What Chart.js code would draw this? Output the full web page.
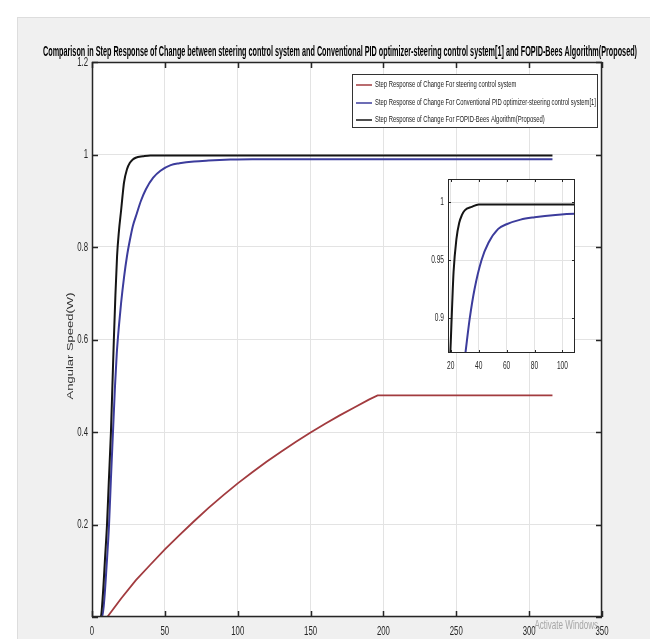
<!DOCTYPE html>
<html>
<head>
<meta charset="utf-8">
<script src="https://cdn.jsdelivr.net/npm/chart.js@4.4.1/dist/chart.umd.min.js"></script>
<style>
html, body { margin: 0; padding: 0; background: #fff; }
#wrap { position: relative; width: 650px; height: 639px; overflow: hidden; }
#main { position: absolute; left: 0; top: 0; }
#inset { position: absolute; left: 420px; top: 170px; }
</style>
</head>
<body>
<div id="wrap">
  <canvas id="main" width="650" height="639"></canvas>
  <canvas id="inset" width="170" height="205"></canvas>
</div>
<script>
// textos
var titleText = 'Comparison in Step Response of Change between steering control system and Conventional PID optimizer-steering control system[1] and FOPID-Bees Algorithm(Proposed)';
var yLabel = 'Angular Speed(W)';
var seriesNames = [
    'Step Response of Change For steering control system',
    'Step Response of Change For Conventional PID optimizer-steering control system[1]',
    'Step Response of Change For FOPID-Bees Algorithm(Proposed)'
];
var watermark = 'Activate Windows';

// datos
var tRed = [10.5, 20, 30, 40, 50, 60, 70, 80, 90, 100, 110, 120, 130, 140, 150, 160, 170, 180, 190, 196, 316];
var vRed = [0, 0.040, 0.079, 0.113, 0.146, 0.177, 0.207, 0.236, 0.263, 0.289, 0.313, 0.336, 0.358, 0.379, 0.399, 0.418, 0.436, 0.453, 0.470, 0.479, 0.479];

var tBlue = [0, 7, 8.5, 10, 11.7, 13, 14.4, 15.8, 17, 18.5, 20, 22, 24, 26, 28, 30.7, 33.6, 37, 42, 47, 54, 60, 70, 80, 95, 110, 316];
var vBlue = [0, 0, 0.04, 0.11, 0.2, 0.3, 0.4, 0.5, 0.57, 0.63, 0.68, 0.735, 0.78, 0.815, 0.845, 0.872, 0.9, 0.925, 0.95, 0.965, 0.977, 0.981, 0.985, 0.987, 0.989, 0.99, 0.99];

var tBlack = [0, 6, 7.5, 9, 10.3, 11.5, 13, 14, 15, 16, 17.2, 18.5, 20, 21, 22, 24, 26, 28, 30, 35, 40, 316];
var vBlack = [0, 0, 0.05, 0.13, 0.2, 0.29, 0.4, 0.5, 0.6, 0.69, 0.78, 0.835, 0.88, 0.912, 0.94, 0.968, 0.982, 0.989, 0.993, 0.996, 0.998, 0.998];

var xTicks = [0, 50, 100, 150, 200, 250, 300, 350];
var yTicks = [0, 0.2, 0.4, 0.6, 0.8, 1, 1.2];
var insetXTicks = [20, 40, 60, 80, 100];
var insetYTicks = [0.9, 0.95, 1];

var colors = ['#a23b3f', '#3c3c9c', '#151515'];

function pts(t, v) {
    return t.map(function (x, i) { return { x: x, y: v[i] }; });
}

function makeSets() {
    return [
        { label: seriesNames[0], data: pts(tRed, vRed), borderColor: colors[0], borderWidth: 1.8, order: 2, cubicInterpolationMode: 'default', tension: 0 },
        { label: seriesNames[1], data: pts(tBlue, vBlue), borderColor: colors[1], borderWidth: 2, order: 1 },
        { label: seriesNames[2], data: pts(tBlack, vBlack), borderColor: colors[2], borderWidth: 2, order: 0 }
    ];
}

function fmt(v) { return String(parseFloat(v.toFixed(2))); }

function squeeze(ctx, text, x, y, sx) {
    ctx.save();
    ctx.translate(x, y);
    ctx.scale(sx, 1);
    ctx.fillText(text, 0, 0);
    ctx.restore();
}

// fondo gris de la figura y area blanca
var paper = {
    id: 'paper',
    beforeDraw: function (chart, args, opts) {
        var ctx = chart.ctx, a = chart.chartArea;
        ctx.save();
        if (opts.figure) {
            ctx.fillStyle = '#ffffff';
            ctx.fillRect(0, 0, chart.width, chart.height);
            ctx.fillStyle = '#f0f0f0';
            ctx.fillRect(18, 18, chart.width - 18, chart.height - 18);
            ctx.strokeStyle = '#dddddd';
            ctx.strokeRect(17.5, 17.5, chart.width, chart.height);
        }
        ctx.fillStyle = '#ffffff';
        ctx.fillRect(a.left, a.top, a.right - a.left, a.bottom - a.top);
        ctx.restore();
    }
};

// caja, ticks hacia dentro y etiquetas
var frame = {
    id: 'frame',
    afterDatasetsDraw: function (chart, args, o) {
        var ctx = chart.ctx, a = chart.chartArea;
        var xs = chart.scales.x, ys = chart.scales.y;
        ctx.save();
        ctx.strokeStyle = '#262626';
        ctx.lineWidth = o.lw;
        ctx.strokeRect(a.left + 0.5, a.top + 0.5, a.right - a.left - 1, a.bottom - a.top - 1);
        ctx.beginPath();
        o.xt.forEach(function (v) {
            var px = Math.round(xs.getPixelForValue(v)) + 0.5;
            ctx.moveTo(px, a.bottom); ctx.lineTo(px, a.bottom - o.tl);
            ctx.moveTo(px, a.top); ctx.lineTo(px, a.top + o.tl);
        });
        o.yt.forEach(function (v) {
            var py = Math.round(ys.getPixelForValue(v)) + 0.5;
            ctx.moveTo(a.left, py); ctx.lineTo(a.left + o.tl, py);
            ctx.moveTo(a.right, py); ctx.lineTo(a.right - o.tl, py);
        });
        ctx.stroke();

        ctx.fillStyle = '#262626';
        ctx.font = o.fs + 'px "Liberation Sans", Arial, sans-serif';
        ctx.textAlign = 'center';
        ctx.textBaseline = 'top';
        o.xt.forEach(function (v) {
            squeeze(ctx, fmt(v), xs.getPixelForValue(v), a.bottom + o.xpad, 0.6);
        });
        ctx.textAlign = 'right';
        ctx.textBaseline = 'middle';
        o.yt.forEach(function (v) {
            if (v === 0) return;
            squeeze(ctx, fmt(v), a.left - o.ypad, ys.getPixelForValue(v), 0.6);
        });

        if (o.figure) {
            // titulo
            ctx.font = 'bold 14px "Liberation Sans", Arial, sans-serif';
            ctx.textAlign = 'center';
            ctx.textBaseline = 'alphabetic';
            ctx.fillStyle = '#000';
            var tw = ctx.measureText(titleText).width;
            squeeze(ctx, titleText, 340, 56, 594 / tw);

            // etiqueta eje y
            ctx.save();
            ctx.translate(70, 346);
            ctx.scale(0.75, 1);
            ctx.rotate(-Math.PI / 2);
            ctx.font = '13px "Liberation Sans", Arial, sans-serif';
            ctx.fillStyle = '#333';
            ctx.textAlign = 'center';
            ctx.textBaseline = 'middle';
            ctx.fillText(yLabel, 0, 0);
            ctx.restore();

            // leyenda
            ctx.fillStyle = '#fff';
            ctx.fillRect(352, 74, 245, 53);
            ctx.strokeStyle = '#333';
            ctx.lineWidth = 1;
            ctx.strokeRect(352.5, 74.5, 245, 53);
            ctx.font = '9px "Liberation Sans", Arial, sans-serif';
            var mw = 0;
            seriesNames.forEach(function (s) { mw = Math.max(mw, ctx.measureText(s).width); });
            var sx = 221 / mw;
            var rows = [85, 103, 120];
            seriesNames.forEach(function (s, i) {
                ctx.strokeStyle = colors[i];
                ctx.lineWidth = 1.5;
                ctx.beginPath();
                ctx.moveTo(356, rows[i]); ctx.lineTo(372, rows[i]);
                ctx.stroke();
                ctx.fillStyle = '#222';
                ctx.textAlign = 'left';
                ctx.textBaseline = 'middle';
                squeeze(ctx, s, 375, rows[i], sx);
            });

            // marca de agua
            ctx.font = '13px "Liberation Sans", Arial, sans-serif';
            ctx.fillStyle = 'rgba(140,140,140,0.75)';
            ctx.textAlign = 'right';
            ctx.textBaseline = 'alphabetic';
            squeeze(ctx, watermark, 598, 629, 0.62);
        }
        ctx.restore();
    }
};

function scaleOpts(min, max, ticks, fit, prop) {
    return {
        type: 'linear', min: min, max: max,
        afterBuildTicks: function (s) { s.ticks = ticks.map(function (v) { return { value: v }; }); },
        afterFit: function (s) { s[prop] = fit; },
        ticks: { display: false },
        grid: { color: '#e3e3e3', drawTicks: false },
        border: { display: false }
    };
}

var mainChart = new Chart(document.getElementById('main'), {
    type: 'line',
    data: { datasets: makeSets() },
    options: {
        responsive: false, animation: false, devicePixelRatio: 1,
        layout: { padding: { top: 62, right: 48, left: 0, bottom: 0 } },
        elements: { point: { radius: 0 }, line: { cubicInterpolationMode: 'monotone' } },
        plugins: {
            legend: { display: false }, tooltip: { enabled: false },
            paper: { figure: true },
            frame: { figure: true, xt: xTicks, yt: yTicks, tl: 6, lw: 1.5, fs: 13, xpad: 8, ypad: 4 }
        },
        scales: {
            x: scaleOpts(0, 350, xTicks, 22, 'height'),
            y: scaleOpts(0, 1.2, yTicks, 92, 'width')
        }
    },
    plugins: [paper, frame]
});

var insetChart = new Chart(document.getElementById('inset'), {
    type: 'line',
    data: { datasets: makeSets() },
    options: {
        responsive: false, animation: false, devicePixelRatio: 1,
        layout: { padding: { top: 9, right: 15, left: 0, bottom: 0 } },
        elements: { point: { radius: 0 }, line: { cubicInterpolationMode: 'monotone' } },
        plugins: {
            legend: { display: false }, tooltip: { enabled: false },
            paper: { figure: false },
            frame: { figure: false, xt: insetXTicks, yt: insetYTicks, tl: 3, lw: 1, fs: 11, xpad: 7, ypad: 4 }
        },
        scales: {
            x: scaleOpts(18, 109, insetXTicks, 22, 'height'),
            y: scaleOpts(0.87, 1.02, insetYTicks, 28, 'width')
        }
    },
    plugins: [paper, frame]
});
</script>
</body>
</html>
